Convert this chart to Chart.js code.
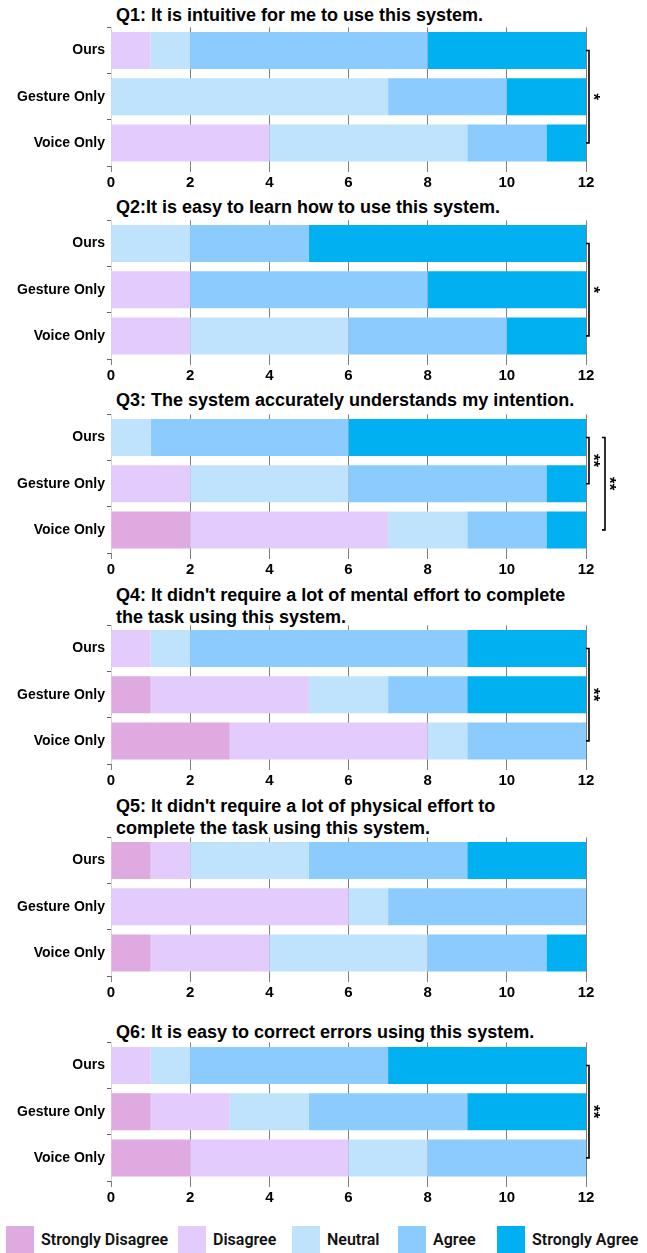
<!DOCTYPE html>
<html>
<head>
<meta charset="utf-8">
<script src="https://cdn.jsdelivr.net/npm/chart.js@4.4.1/dist/chart.umd.min.js"></script>
<style>
  body { margin: 0; background: #fff; }
  #page { position: relative; width: 647px; height: 1253px; overflow: hidden; }
  .title { position: absolute; left: 116px; font: bold 18px "Liberation Sans Narrow", "Liberation Sans", sans-serif; line-height: 22px; color: #000; white-space: nowrap; }
  canvas { position: absolute; left: 0; }
  .key { position: absolute; top: 1226px; height: 27px; display: flex; align-items: center; font: 600 16px Roboto, sans-serif; color: #111; white-space: nowrap; }
  .key span { display: inline-block; width: 28px; height: 27px; margin-right: 7px; }
</style>
</head>
<body>
<div id="page"></div>
<script>
// Likert responses, one row per condition, counts per level
const categories = ['Ours', 'Gesture Only', 'Voice Only'];
const levels = ['Strongly Disagree', 'Disagree', 'Neutral', 'Agree', 'Strongly Agree'];
const levelColors = ['#DFAAE0', '#E3CBFD', '#BFE3FD', '#8CCBFE', '#00B0F0'];
const xTicks = [0, 2, 4, 6, 8, 10, 12];

const q1 = [[0, 1, 1, 6, 4], [0, 0, 7, 3, 2], [0, 4, 5, 2, 1]];
const q2 = [[0, 0, 2, 3, 7], [0, 2, 0, 6, 4], [0, 2, 4, 4, 2]];
const q3 = [[0, 0, 1, 5, 6], [0, 2, 4, 5, 1], [2, 5, 2, 2, 1]];
const q4 = [[0, 1, 1, 7, 3], [1, 4, 2, 2, 3], [3, 5, 1, 3, 0]];
const q5 = [[1, 1, 3, 4, 3], [0, 6, 1, 5, 0], [1, 3, 4, 3, 1]];
const q6 = [[0, 1, 1, 5, 5], [1, 2, 2, 4, 3], [2, 4, 2, 4, 0]];

const titles = [
  ['Q1: It is intuitive for me to use this system.'],
  ['Q2:It is easy to learn how to use this system.'],
  ['Q3: The system accurately understands my intention.'],
  ["Q4: It didn't require a lot of mental effort to complete", 'the task using this system.'],
  ["Q5: It didn't require a lot of physical effort to", 'complete the task using this system.'],
  ['Q6: It is easy to correct errors using this system.']
];

// significance brackets: from/to are category indices
const sig1 = [{ from: 0, to: 2, label: '*', level: 0 }];
const sig2 = [{ from: 0, to: 2, label: '*', level: 0 }];
const sig3 = [{ from: 0, to: 1, label: '**', level: 0 }, { from: 0, to: 2, label: '**', level: 1 }];
const sig4 = [{ from: 0, to: 2, label: '**', level: 0 }];
const sig5 = [];
const sig6 = [{ from: 0, to: 2, label: '**', level: 0 }];

const panels = [
  { data: q1, sig: sig1, plotTop: 27, titleTop: 4 },
  { data: q2, sig: sig2, plotTop: 220, titleTop: 196 },
  { data: q3, sig: sig3, plotTop: 414, titleTop: 389 },
  { data: q4, sig: sig4, plotTop: 625, titleTop: 584 },
  { data: q5, sig: sig5, plotTop: 837, titleTop: 795 },
  { data: q6, sig: sig6, plotTop: 1042, titleTop: 1021 }
];

const PAD_TOP = 10;
const PLOT_H = 139;
const AXIS_H = 30;

// brackets with asterisks to the right of the bars
const sigBrackets = {
  id: 'sigBrackets',
  afterDatasetsDraw(chart, args, opts) {
    const { ctx, chartArea, scales } = chart;
    (opts.items || []).forEach(b => {
      const x = chartArea.right + 3 + b.level * 16;
      const y1 = scales.y.getPixelForValue(b.from);
      const y2 = scales.y.getPixelForValue(b.to);
      ctx.save();
      ctx.strokeStyle = '#000';
      ctx.lineWidth = 1.6;
      ctx.beginPath();
      ctx.moveTo(x - 3, y1);
      ctx.lineTo(x, y1);
      ctx.lineTo(x, y2);
      ctx.lineTo(x - 3, y2);
      ctx.stroke();
      ctx.translate(x + 7, (y1 + y2) / 2);
      ctx.rotate(Math.PI / 2);
      ctx.fillStyle = '#000';
      ctx.font = 'bold 17px "Liberation Sans", sans-serif';
      ctx.textAlign = 'center';
      ctx.textBaseline = 'middle';
      ctx.fillText(b.label, 0, 3);
      ctx.restore();
    });
  }
};

const page = document.getElementById('page');

panels.forEach((p, i) => {
  const t = document.createElement('div');
  t.className = 'title';
  t.style.top = p.titleTop + 'px';
  t.innerHTML = titles[i].join('<br>');
  page.appendChild(t);

  const canvas = document.createElement('canvas');
  canvas.width = 647;
  canvas.height = PAD_TOP + PLOT_H + AXIS_H;
  canvas.style.top = (p.plotTop - PAD_TOP) + 'px';
  page.appendChild(canvas);

  const datasets = levels.map((lv, k) => ({
    label: lv,
    data: p.data.map(row => row[k]),
    backgroundColor: levelColors[k],
    borderWidth: 0,
    categoryPercentage: 1,
    barPercentage: 0.8
  }));

  new Chart(canvas.getContext('2d'), {
    type: 'bar',
    data: { labels: categories, datasets },
    plugins: [sigBrackets],
    options: {
      indexAxis: 'y',
      responsive: false,
      animation: false,
      layout: { padding: { top: PAD_TOP, right: 61, bottom: 0, left: 0 } },
      plugins: {
        legend: { display: false },
        tooltip: { enabled: false },
        sigBrackets: { items: p.sig }
      },
      scales: {
        x: {
          stacked: true,
          min: 0,
          max: 12,
          afterBuildTicks: s => { s.ticks = xTicks.map(v => ({ value: v })); },
          afterFit: s => { s.height = AXIS_H; },
          ticks: { color: '#000', font: { family: '"Liberation Sans Narrow", "Liberation Sans"', size: 15, weight: 'bold' }, padding: 2 },
          grid: {
            color: c => (c.index === 0 ? '#d6d6d6' : '#7f7f7f'),
            tickColor: '#7f7f7f',
            tickLength: 6,
            lineWidth: 1
          },
          border: { display: false }
        },
        y: {
          stacked: true,
          afterFit: s => { s.width = 111; },
          ticks: { color: '#000', font: { family: '"Liberation Sans Narrow", "Liberation Sans"', size: 14, weight: 'bold' }, padding: 2 },
          grid: { drawOnChartArea: false, tickColor: '#666', tickLength: 4 },
          border: { display: false }
        }
      }
    }
  });
});

// shared legend along the bottom
const keyLeft = [6, 178, 292, 398, 497];
levels.forEach((lv, k) => {
  const d = document.createElement('div');
  d.className = 'key';
  d.style.left = keyLeft[k] + 'px';
  d.innerHTML = '<span style="background:' + levelColors[k] + '"></span>' + lv;
  page.appendChild(d);
});
</script>
</body>
</html>
